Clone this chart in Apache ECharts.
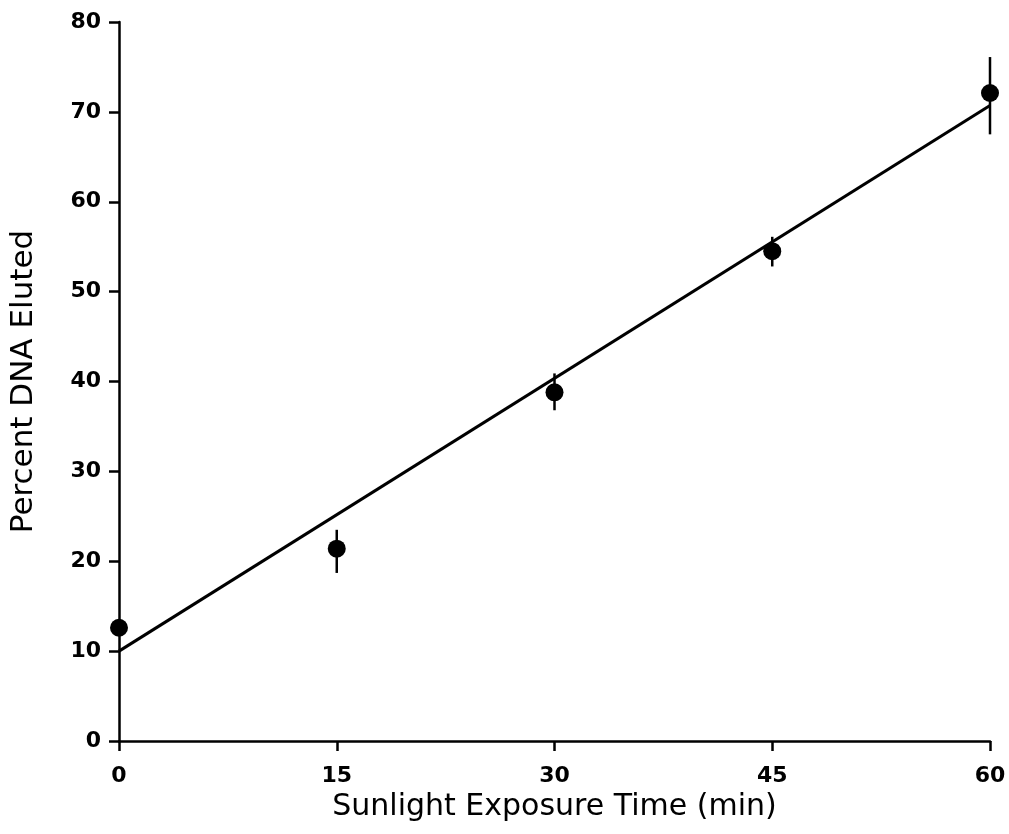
<!DOCTYPE html>
<html><head><meta charset="utf-8">
<script src="https://cdn.jsdelivr.net/npm/echarts@6/dist/echarts.min.js"></script>
<style>html,body{margin:0;padding:0;background:#fff}#c{width:1009px;height:834px}</style>
</head><body><div id="c"></div>
<script>
const times = [0, 15, 30, 45, 60];
const percentEluted = [12.6, 21.4, 38.8, 54.5, 72.1];
const errLow = [12.6, 18.7, 36.8, 52.8, 67.5];
const errHigh = [12.6, 23.5, 40.9, 56.1, 76.1];
const fitX = [0, 60];
const fitY = [10.0, 70.7];
const xTicks = [0, 15, 30, 45, 60];

const chart = echarts.init(document.getElementById('c'));
const font = '"DejaVu Sans", sans-serif';
chart.setOption({
  animation: false,
  grid: {left: 118, right: 19, top: 22, bottom: 93, containLabel: false},
  xAxis: {
    type: 'value', min: 0, max: 60, interval: 15,
    name: 'Sunlight Exposure Time (min)', nameLocation: 'middle', nameGap: 44,
    nameTextStyle: {fontFamily: font, fontSize: 30, color: '#000'},
    axisLine: {show: true, lineStyle: {color: '#000', width: 2.5}},
    axisTick: {show: true, length: 10, lineStyle: {color: '#000', width: 2.5}},
    axisLabel: {fontFamily: font, fontSize: 22, fontWeight: 'bold', color: '#000', margin: 24,
      formatter: v => xTicks.includes(v) ? String(v) : ''},
    splitLine: {show: false}
  },
  yAxis: {
    type: 'value', min: 0, max: 80, interval: 10,
    name: 'Percent DNA Eluted', nameLocation: 'middle', nameGap: 80, nameRotate: 90,
    nameTextStyle: {fontFamily: font, fontSize: 31, color: '#000'},
    axisLine: {show: true, lineStyle: {color: '#000', width: 2.5}},
    axisTick: {show: true, length: 10, lineStyle: {color: '#000', width: 2.5}},
    axisLabel: {fontFamily: font, fontSize: 22, fontWeight: 'bold', color: '#000', margin: 18},
    splitLine: {show: false}
  },
  series: [
    {
      type: 'line', data: fitX.map((x, i) => [x, fitY[i]]), symbol: 'none',
      lineStyle: {color: '#000', width: 3}, z: 2
    },
    {
      type: 'custom',
      data: times.map((t, i) => [t, errLow[i], errHigh[i]]),
      renderItem: (params, api) => {
        const p1 = api.coord([api.value(0), api.value(1)]);
        const p2 = api.coord([api.value(0), api.value(2)]);
        return {type: 'line', shape: {x1: p1[0], y1: p1[1], x2: p2[0], y2: p2[1]},
          style: {stroke: '#000', lineWidth: 2.5}};
      }, z: 3
    },
    {
      type: 'scatter', data: times.map((t, i) => [t, percentEluted[i]]),
      symbol: 'circle', symbolSize: 18, itemStyle: {color: '#000', opacity: 1}, z: 4
    }
  ]
});
</script></body></html>
